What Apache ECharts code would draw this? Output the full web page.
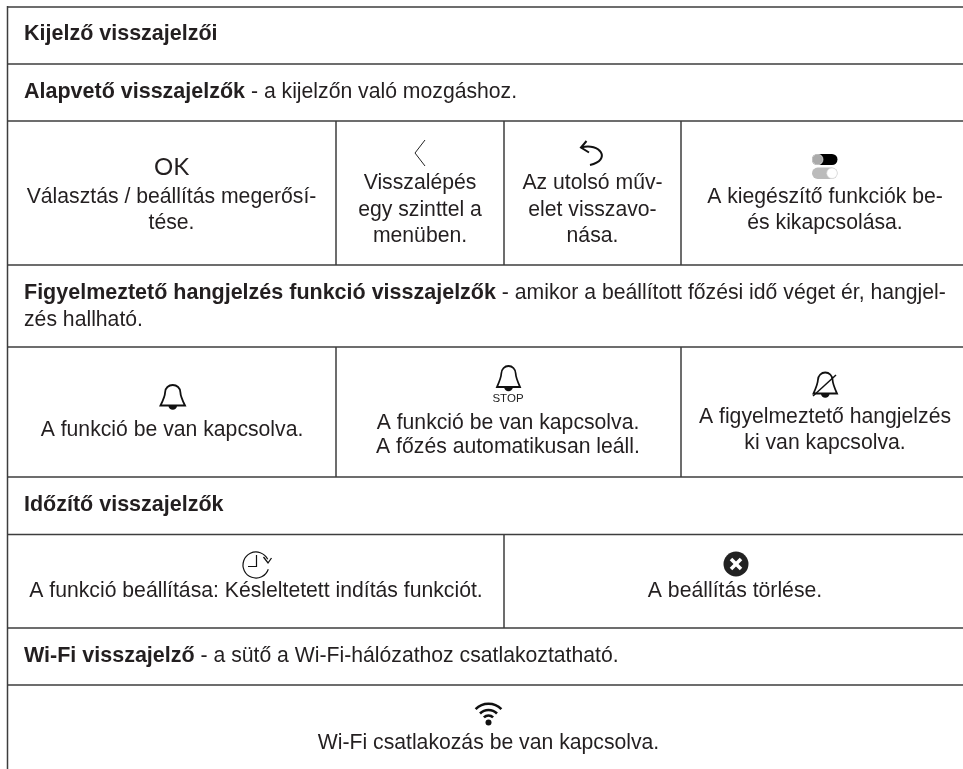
<!DOCTYPE html>
<html><head><meta charset="utf-8">
<style>html,body{margin:0;padding:0;background:#fff}#c{width:963px;height:769px}</style>
<script src="https://cdn.jsdelivr.net/npm/echarts@6/dist/echarts.min.js"></script>
</head><body><div id="c"></div>
<script>
// ---- content ----
const title = "Kijelző visszajelzői";
const basicHead = ["Alapvető visszajelzők", " - a kijelzőn való mozgáshoz."];
const basicCells = [
  ["Választás / beállítás megerősí-", "tése."],
  ["Visszalépés", "egy szinttel a", "menüben."],
  ["Az utolsó műv-", "elet visszavo-", "nása."],
  ["A kiegészítő funkciók be-", "és kikapcsolása."]
];
const alarmHead = ["Figyelmeztető hangjelzés funkció visszajelzők", " - amikor a beállított főzési idő véget ér, hangjel-", "zés hallható."];
const alarmCells = [
  ["A funkció be van kapcsolva."],
  ["A funkció be van kapcsolva.", "A főzés automatikusan leáll."],
  ["A figyelmeztető hangjelzés", "ki van kapcsolva."]
];
const timerHead = "Időzítő visszajelzők";
const timerCells = [["A funkció beállítása: Késleltetett indítás funkciót."], ["A beállítás törlése."]];
const wifiHead = ["Wi-Fi visszajelző", " - a sütő a Wi-Fi-hálózathoz csatlakoztatható."];
const wifiCells = [["Wi-Fi csatlakozás be van kapcsolva."]];

// ---- layout ----
const INK = "#231f20", LINE = "#3d3d3d", F = "Liberation Sans, Arial, sans-serif", FS = 21.2, FB = 21.5;
const g = [];
const rowLines = [7, 64, 121, 265, 347, 477, 534.5, 628, 685];
const colLines = [[336,121,265],[504,121,265],[681,121,265],[336,347,477],[681,347,477],[504,534.5,628]];
rowLines.forEach(y => g.push({type:"line",shape:{x1:7,y1:y,x2:963,y2:y},style:{stroke:LINE,lineWidth:1.6},z:1}));
g.push({type:"line",shape:{x1:7.5,y1:6,x2:7.5,y2:769},style:{stroke:LINE,lineWidth:1.5},z:1});
colLines.forEach(c => g.push({type:"line",shape:{x1:c[0],y1:c[1],x2:c[0],y2:c[2]},style:{stroke:LINE,lineWidth:1.5},z:1}));

const rich = {b:{fontFamily:F,fontSize:FB,fontWeight:"bold",fill:INK},n:{fontFamily:F,fontSize:FS,fill:INK}};
function txt(s,x,y,opt){ g.push({type:"text",x,y,z:2,style:Object.assign({text:s,fill:INK,font:FS+"px "+F,textAlign:"center",textVerticalAlign:"middle"},opt||{})}); }
function head(parts,y){
  g.push({type:"text",x:24,y,z:2,style:{
    text:"{b|"+parts[0]+"}"+(parts[1]?"{n|"+parts[1]+"}":""),
    textAlign:"left",textVerticalAlign:"middle",rich
  }});
}
function cell(lines,x,ys){ lines.forEach((s,i)=>txt(s,x,ys[i])); }

head([title],34.5);
head(basicHead,92);
txt("OK",171.5,167,{font:"400 24px Lato, Inter, sans-serif"});
cell(basicCells[0],171.5,[197,223]);
cell(basicCells[1],420,[183,210,236]);
cell(basicCells[2],592.5,[183,210,236]);
cell(basicCells[3],825,[197,223]);
// chevron
g.push({type:"polyline",z:3,shape:{points:[[425,140],[415,153],[425,166]]},style:{fill:"none",stroke:"#222",lineWidth:1}});
// undo
g.push({type:"polyline",z:3,shape:{points:[[586.5,141],[581,147.5],[589,152.5]]},style:{fill:"none",stroke:"#111",lineWidth:2}});
g.push({type:"bezierCurve",z:3,shape:{x1:581,y1:147.5,cpx1:600,cpy1:142,cpx2:612,cpy2:160,x2:590,y2:165},style:{fill:"none",stroke:"#111",lineWidth:2}});
// toggles
g.push({type:"rect",z:3,shape:{x:812,y:154,width:25.5,height:11,r:5.5},style:{fill:"#000"}});
g.push({type:"circle",z:4,shape:{cx:817.5,cy:159.5,r:5.5},style:{fill:"#aaa",stroke:"#fff",lineWidth:.6}});
g.push({type:"rect",z:3,shape:{x:812,y:167.5,width:25.5,height:11.5,r:5.7},style:{fill:"#bbb"}});
g.push({type:"circle",z:4,shape:{cx:832,cy:173.2,r:5.2},style:{fill:"#fff",stroke:"#ddd",lineWidth:.6}});

const BellShape = echarts.graphic.extendPath("M0,20 C3,14 4.5,11 4.6,7 C4.8,3 8,0 12.2,0 C16.4,0 19.6,3 19.8,7 C19.9,11 21.4,14 24.4,20 Z",{});
echarts.graphic.registerShape("bellIcon",BellShape);
function bell(x,y,w,h){
  g.push({type:"bellIcon",z:3,x,y,scaleX:w/24.4,scaleY:h/20,style:{fill:"none",stroke:"#111",lineWidth:1.8}});
  g.push({type:"sector",z:3,shape:{cx:x+w/2,cy:y+h,r:4.3,r0:0,startAngle:0,endAngle:Math.PI,clockwise:true},style:{fill:"#111"}});
}
bell(160.5,385,24.5,20.5);
cell(alarmCells[0],172,[430]);
bell(497,366,23,21);
txt("STOP",508,399,{font:"11.5px Liberation Sans Narrow, Liberation Sans, sans-serif",fill:"#222"});
cell(alarmCells[1],508,[423,447]);
bell(813.5,372.5,23.5,21);
g.push({type:"line",z:4,shape:{x1:813,y1:396,x2:836,y2:375},style:{stroke:"#111",lineWidth:1.5}});
cell(alarmCells[2],825,[417,443]);

head([timerHead],505.5);
// timer
g.push({type:"arc",z:3,shape:{cx:256,cy:565,r:13,startAngle:-0.45,endAngle:-0.45-5.5,clockwise:false},style:{fill:"none",stroke:"#111",lineWidth:1.2}});
g.push({type:"polyline",z:3,shape:{points:[[256.5,555],[256.5,566.5],[248,566.5]]},style:{fill:"none",stroke:"#111",lineWidth:1.2}});
g.push({type:"polyline",z:3,shape:{points:[[263.5,557],[268,563],[271.5,558]]},style:{fill:"none",stroke:"#111",lineWidth:1.3}});
cell(timerCells[0],256,[591]);
// cancel
g.push({type:"circle",z:3,shape:{cx:736,cy:564,r:12.5},style:{fill:"#222"}});
g.push({type:"line",z:4,shape:{x1:731,y1:559,x2:741,y2:569},style:{stroke:"#fff",lineWidth:3.6}});
g.push({type:"line",z:4,shape:{x1:741,y1:559,x2:731,y2:569},style:{stroke:"#fff",lineWidth:3.6}});
cell(timerCells[1],735,[591]);

head(wifiHead,656);
// wifi
const wc={x:488.5,y:722};
[18.2,12,6.5].forEach(r=>g.push({type:"arc",z:3,shape:{cx:wc.x,cy:wc.y,r,startAngle:-Math.PI*0.75,endAngle:-Math.PI*0.25,clockwise:true},style:{fill:"none",stroke:"#111",lineWidth:2.6}}));
g.push({type:"circle",z:3,shape:{cx:wc.x,cy:wc.y+.5,r:3},style:{fill:"#111"}});
cell(wifiCells[0],488.5,[743]);

// alarm header (two lines)
g.push({type:"text",x:24,y:293,z:2,style:{
  text:"{b|"+alarmHead[0]+"}{n|"+alarmHead[1]+"}",textAlign:"left",textVerticalAlign:"middle",rich
}});
txt(alarmHead[2],24,320,{textAlign:"left"});

const chart = echarts.init(document.getElementById("c"),null,{renderer:"canvas"});
chart.setOption({animation:false,backgroundColor:"#fff",graphic:{elements:g}});
</script></body></html>
